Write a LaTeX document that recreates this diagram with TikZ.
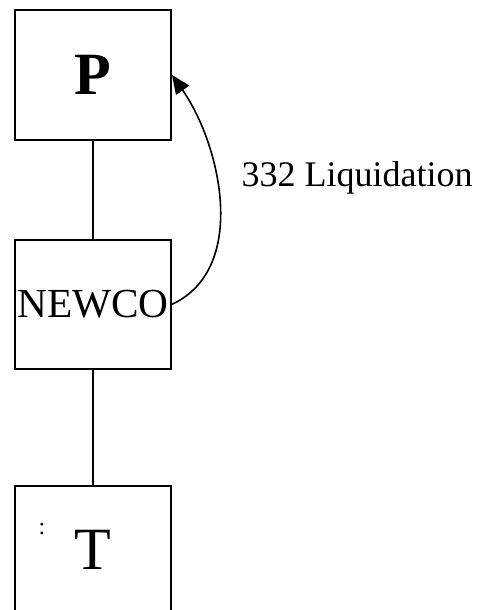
\documentclass[tikz,border=0pt]{standalone}
\usepackage{fontspec}
\setmainfont{Liberation Serif}
\usepackage{tikz}
\usetikzlibrary{arrows.meta, positioning}
\tikzset{
  firm/.style={rectangle,draw=black,line width=1.5pt,fill=white,
    minimum width=117pt,minimum height=97pt,inner sep=0pt,align=center},
  link/.style={line width=1.2pt,draw=black},
  ar/.style={-{Triangle[length=14pt,width=12pt]},line width=1.2pt,draw=black}
}
\begin{document}
\begin{tikzpicture}[x=0.75pt,y=-0.75pt]
\clip (0,0) rectangle (480,610);
\node[firm,font=\fontsize{45}{50}\selectfont\bfseries] (p) at (93,75) {P};
\node[firm,below=73.5pt of p,font=\fontsize{31}{36}\selectfont] (newco) {NEWCO};
\node[firm,below=86pt of newco,font=\fontsize{45}{50}\selectfont] (t) {T};
\node[font=\fontsize{18}{20}\selectfont] (dots) at (42,529) {:};
\draw[link] (p)--(newco);
\draw[link] (newco)--(t);
\draw[ar] (newco.east) to[out=25,in=-55,looseness=0.95] (p.east);
\node[anchor=base west,font=\fontsize{27}{32}\selectfont] (liq) at (237,186) {332 Liquidation};
\end{tikzpicture}
\end{document}
